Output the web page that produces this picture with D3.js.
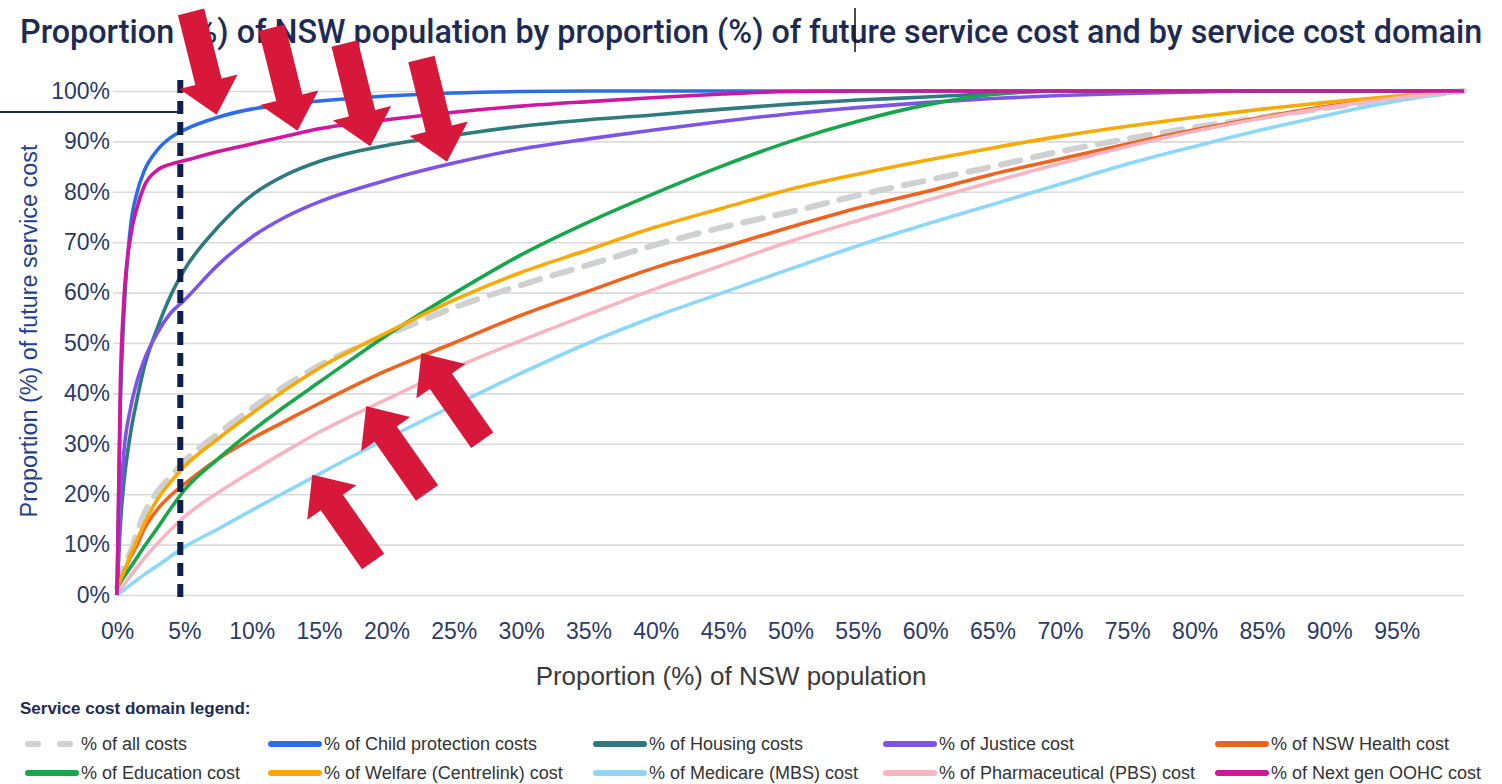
<!DOCTYPE html>
<html>
<head>
<meta charset="utf-8">
<script src="https://cdn.jsdelivr.net/npm/d3@7"></script>
<style>
  html, body { margin: 0; padding: 0; background: #fff; }
  svg { display: block; font-family: "Liberation Sans", Arial, sans-serif; }
</style>
</head>
<body>
<div id="chart"></div>
<script>
// x: cumulative share of NSW population (%)
const popPct = [0, 0.25, 0.5, 1, 1.5, 2, 3, 4, 5, 7.5, 10, 12.5, 15, 20, 25, 30, 35, 40, 45, 50, 55, 60, 65, 70, 75, 80, 85, 90, 95, 100];

// y: cumulative share of future service cost (%), one list per domain
const allCosts        = [1.5, 3.5, 5.5, 8.5, 12.5, 16, 20.5, 23.5, 26.5, 32, 37, 41.5, 45.5, 51.5, 57, 61.5, 65.5, 69.5, 73, 76, 79.3, 82.2, 85, 88, 90.5, 92.8, 94.8, 96.7, 98.5, 100];
const childProtection = [0, 38, 55, 73, 80, 84, 88.3, 90.8, 92.3, 94.8, 96.4, 97.3, 98, 99, 99.6, 99.9, 100, 100, 100, 100, 100, 100, 100, 100, 100, 100, 100, 100, 100, 100];
const housing         = [0, 14, 22, 32, 39, 45, 53, 59.5, 64.5, 73, 79.3, 83.3, 86, 89.2, 91.2, 93, 94.3, 95.3, 96.4, 97.4, 98.2, 98.8, 99.5, 100, 100, 100, 100, 100, 100, 100];
const justice         = [0, 18, 28, 37, 42.5, 46.5, 52, 56, 58.5, 65.5, 71, 75, 78, 82.3, 85.7, 88.5, 90.5, 92.3, 94, 95.5, 96.7, 97.7, 98.5, 99.1, 99.5, 99.8, 100, 100, 100, 100];
const nswHealth       = [1.5, 3, 4.5, 7.5, 10, 13, 17, 19.8, 22, 27, 31, 34.5, 38, 44.5, 50, 55.5, 60.3, 65, 69, 73, 76.8, 80, 83.5, 86.5, 89.5, 92.3, 94.8, 97, 98.7, 100];
const education       = [1.5, 2.5, 3.5, 5.5, 7.5, 9.5, 13.3, 17.2, 20.8, 27, 32.5, 37.5, 42.2, 51.5, 59.8, 67.5, 74, 79.8, 85.2, 90, 94, 97.2, 99.3, 100, 100, 100, 100, 100, 100, 100];
const welfare         = [1.5, 3, 4.5, 8, 11, 14, 19, 22.5, 25.5, 31, 36, 40.7, 45, 52, 58.5, 64, 68.5, 73, 76.8, 80.5, 83.5, 86.2, 88.7, 91, 93, 94.8, 96.4, 97.8, 99, 100];
const medicare        = [0, 0.5, 1, 2, 3, 4, 5.8, 7.7, 9.5, 13.1, 16.8, 20.4, 24, 31, 37.6, 44, 50, 55.3, 60, 64.7, 69.3, 73.5, 77.5, 81.5, 85.5, 89, 92.3, 95.3, 98, 100];
const pharma          = [0.5, 1.2, 2, 3.8, 5.5, 7.2, 10.2, 13, 15.5, 20.3, 24.5, 28.5, 32.3, 38.8, 45, 50.5, 55.7, 60.8, 65.5, 70.2, 74.3, 78.2, 82, 85.6, 89, 92, 94.6, 96.8, 98.6, 100];
const nextGenOohc     = [0, 42, 58, 71, 77, 81, 84.3, 85.5, 86.2, 88, 89.5, 91, 92.5, 94.3, 95.8, 97, 97.9, 98.7, 99.4, 99.9, 100, 100, 100, 100, 100, 100, 100, 100, 100, 100];

const seriesKeys = ['all', 'child', 'housing', 'justice', 'health', 'education', 'welfare', 'medicare', 'pharma', 'oohc'];
const seriesLabels = ['% of all costs', '% of Child protection costs', '% of Housing costs', '% of Justice cost',
  '% of NSW Health cost', '% of Education cost', '% of Welfare (Centrelink) cost', '% of Medicare (MBS) cost',
  '% of Pharmaceutical (PBS) cost', '% of Next gen OOHC cost'];
const seriesValues = [allCosts, childProtection, housing, justice, nswHealth, education, welfare, medicare, pharma, nextGenOohc];

const yTicks = [0, 10, 20, 30, 40, 50, 60, 70, 80, 90, 100];
const xTicks = [0, 5, 10, 15, 20, 25, 30, 35, 40, 45, 50, 55, 60, 65, 70, 75, 80, 85, 90, 95];

// arrows point at a curve at a given population share
const arrowTargets = [
  { key: 'child', at: 7.4, dir: 'down' },
  { key: 'oohc', at: 13.4, dir: 'down' },
  { key: 'housing', at: 18.8, dir: 'down' },
  { key: 'justice', at: 24.5, dir: 'down' },
  { key: 'medicare', at: 14.5, dir: 'up' },
  { key: 'pharma', at: 18.5, dir: 'up' },
  { key: 'health', at: 22.6, dir: 'up' }
];

// styles
const colors = {
  all: '#cfd0d2', child: '#2c6de6', housing: '#2f7a7e', justice: '#7d53e8', health: '#f0631f',
  education: '#17a64b', welfare: '#f7aa04', medicare: '#8dd7f8', pharma: '#f8b5c1', oohc: '#cf169e'
};
const navy = '#1d2b53';

const width = 1502, height = 784;
const svg = d3.select('#chart').append('svg')
  .attr('width', width)
  .attr('height', height);

const x = d3.scaleLinear().domain([0, 100]).range([117, 1464]);
const y = d3.scaleLinear().domain([0, 100]).range([595, 91]);

function fitWidth(sel, w) {
  let cur = sel.node().getComputedTextLength();
  let fs = parseFloat(sel.attr('font-size'));
  sel.attr('font-size', fs * w / cur);
}

// title
let title = svg.append('text')
  .attr('x', 20).attr('y', 43)
  .attr('font-family', 'Roboto, "Liberation Sans", sans-serif')
  .attr('font-weight', 500)
  .attr('font-size', 28)
  .attr('fill', navy)
  .text('Proportion (%) of NSW population by proportion (%) of future service cost and by service cost domain');
fitWidth(title, 1463);

// stray text cursor in the title
svg.append('line')
  .attr('x1', 855).attr('x2', 855).attr('y1', 8).attr('y2', 52)
  .attr('stroke', '#111').attr('stroke-width', 1.5);

// y axis + grid
let yAxis = svg.append('g')
  .attr('transform', 'translate(113,0)')
  .call(d3.axisLeft(y).tickValues(yTicks).tickFormat(d => d + '%')
    .tickSizeInner(-(x(100) - 113)).tickSizeOuter(0).tickPadding(3));
yAxis.select('.domain').remove();
yAxis.selectAll('.tick line').attr('stroke', '#dadada').attr('stroke-width', 1.6);
yAxis.selectAll('.tick text')
  .attr('font-size', 23).attr('fill', '#2b3a67')
  .attr('font-family', '"Liberation Sans", Arial, sans-serif');

// x axis
let xAxis = svg.append('g')
  .attr('transform', `translate(0,${y(0)})`)
  .call(d3.axisBottom(x).tickValues(xTicks).tickFormat(d => d + '%').tickSize(0).tickPadding(28));
xAxis.select('.domain').remove();
xAxis.selectAll('.tick text')
  .attr('font-size', 23).attr('fill', '#2b3a67')
  .attr('font-family', '"Liberation Sans", Arial, sans-serif');

// axis titles
let yTitle = svg.append('text')
  .attr('transform', 'translate(37,331) rotate(-90)')
  .attr('text-anchor', 'middle')
  .attr('font-size', 21)
  .attr('fill', '#23418a')
  .text('Proportion (%) of future service cost');
fitWidth(yTitle, 373);

let xTitle = svg.append('text')
  .attr('x', 731).attr('y', 685)
  .attr('text-anchor', 'middle')
  .attr('font-size', 23)
  .attr('fill', '#3a3a3a')
  .text('Proportion (%) of NSW population');
fitWidth(xTitle, 391);

// lines
let lineGen = d3.line()
  .x(d => x(d[0]))
  .y(d => y(d[1]))
  .curve(d3.curveMonotoneX);

let seriesData = seriesKeys.map((k, i) => ({
  key: k,
  points: popPct.map((p, j) => [p, seriesValues[i][j]])
}));

svg.append('g').attr('class', 'lines')
  .selectAll('path')
  .data(seriesData)
  .join('path')
  .attr('d', d => lineGen(d.points))
  .attr('fill', 'none')
  .attr('stroke', d => colors[d.key])
  .attr('stroke-width', d => d.key === 'all' ? 6 : 3.6)
  .attr('stroke-dasharray', d => d.key === 'all' ? '20,13' : null)
  .attr('stroke-linecap', d => d.key === 'all' ? 'round' : 'butt')
  .attr('stroke-linejoin', 'round');

// 5% marker
svg.append('line')
  .attr('x1', x(4.7)).attr('x2', x(4.7))
  .attr('y1', 80).attr('y2', 599)
  .attr('stroke', '#0e1f4d')
  .attr('stroke-width', 6)
  .attr('stroke-dasharray', '13,8');

// stray horizontal rule at the left
svg.append('line')
  .attr('x1', 0).attr('x2', x(4.7) - 2)
  .attr('y1', 112).attr('y2', 112)
  .attr('stroke', navy).attr('stroke-width', 2);

// red arrows
function arrowPath(len, shaft, headW, headL) {
  let s = shaft / 2, h = headW / 2;
  return `M0,0 L${-headL},${h} L${-headL},${s} L${-len},${s} L${-len},${-s} L${-headL},${-s} L${-headL},${-h} Z`;
}
let valueAt = {};
seriesKeys.forEach((k, i) => { valueAt[k] = d3.scaleLinear().domain(popPct).range(seriesValues[i]); });

svg.append('g').attr('class', 'arrows')
  .selectAll('path')
  .data(arrowTargets)
  .join('path')
  .attr('d', arrowPath(106, 27, 60, 34))
  .attr('transform', d => {
    let tx = x(d.at), ty = y(valueAt[d.key](d.at)) - 3;
    let ang = d.dir === 'down' ? 76 : -125;
    return `translate(${tx},${ty}) rotate(${ang})`;
  })
  .attr('fill', '#d7183b');

// legend
svg.append('text')
  .attr('x', 20).attr('y', 714)
  .attr('font-size', 17)
  .attr('font-weight', 'bold')
  .attr('fill', navy)
  .text('Service cost domain legend:');

const legendCols = [25, 268, 593, 883, 1215];
const legendRows = [744, 773];

let legend = svg.append('g').attr('class', 'legend')
  .selectAll('g')
  .data(seriesKeys)
  .join('g')
  .attr('transform', (d, i) => `translate(${legendCols[i % 5]},${legendRows[Math.floor(i / 5)]})`);

legend.append('line')
  .attr('x1', 3).attr('x2', 51)
  .attr('stroke', d => colors[d])
  .attr('stroke-width', 6)
  .attr('stroke-linecap', 'round')
  .attr('stroke-dasharray', d => d === 'all' ? '10,22' : null);

legend.append('text')
  .attr('x', 56).attr('dy', '0.35em')
  .attr('font-size', 18)
  .attr('fill', '#333')
  .text((d, i) => seriesLabels[i]);
</script>
</body>
</html>
